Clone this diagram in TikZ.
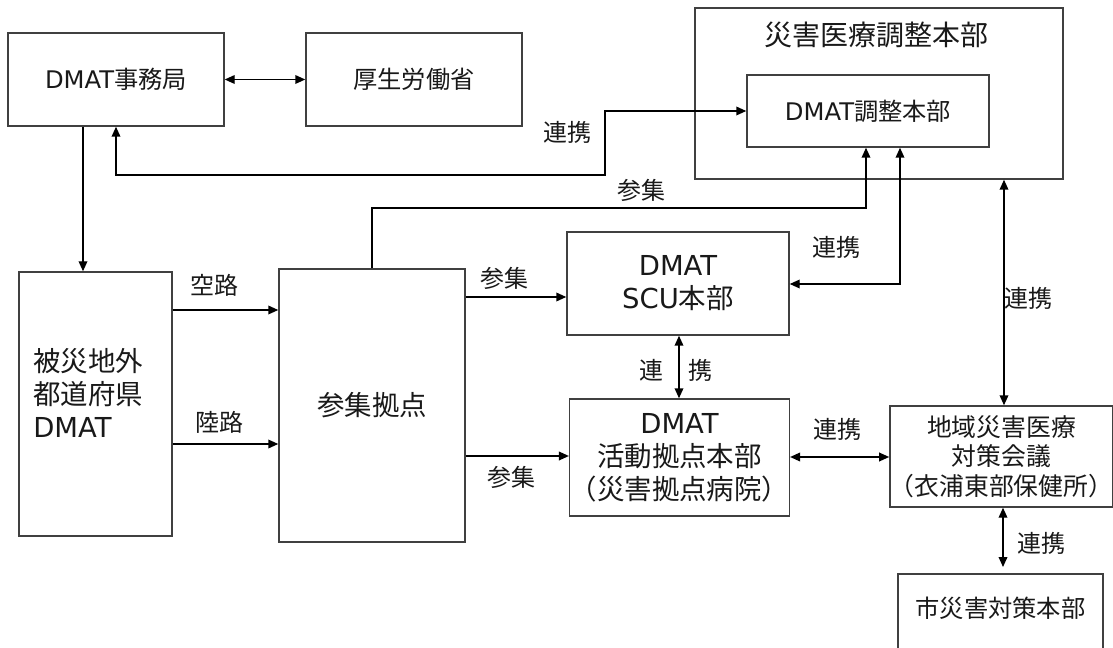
\documentclass[tikz,border=0pt]{standalone}
\usepackage{fontspec}
\setmainfont{Noto Sans CJK JP}
\newfontfamily\lat{DejaVu Sans}
\usetikzlibrary{arrows.meta}
\begin{document}
\begin{tikzpicture}[x=0.75pt,y=-0.75pt,
  box/.style={draw=black!75, line width=1.1pt, inner sep=0pt, align=center, text=black!90},
  fnorm/.style={font=\fontsize{18.2}{22}\selectfont},
  fmid/.style={font=\fontsize{18.6}{22.5}\selectfont},
  fbig/.style={font=\fontsize{20.6}{24.75}\selectfont},
  ftitle/.style={font=\fontsize{21}{25}\selectfont},
  conn/.style={line width=1.1pt, -{Triangle[length=7.5pt,width=6.5pt]}},
  both/.style={line width=1.1pt, {Triangle[length=7.5pt,width=6.5pt]}-{Triangle[length=7.5pt,width=6.5pt]}},
  lbl/.style={font=\fontsize{18}{22}\selectfont, inner sep=0pt, text=black!90}]
\useasboundingbox (0,0) rectangle (1113,648);
\fill[white] (0,0) rectangle (1113,648);

% boxes
\node[box, fnorm, minimum width=162pt, minimum height=69.75pt] (jimu) at (116,79.5) {{\lat DMAT}事務局};
\node[box, fnorm, minimum width=162pt, minimum height=69.75pt] (kosei) at (414,79.5) {厚生労働省};
\node[box, minimum width=276pt, minimum height=128.25pt] (outer) at (879,93.5) {};
\node[ftitle, inner sep=0pt, text=black!90] (title) at (876,35) {災害医療調整本部};
\node[box, fnorm, minimum width=181.5pt, minimum height=54pt] (chosei) at (868,111) {{\lat DMAT}調整本部};
\node[box, minimum width=114.75pt, minimum height=198pt] (hisai) at (95.5,404) {};
\node[fbig, align=left, anchor=west, inner sep=0pt, text=black!90] (hisaiT) at (33,393) {被災地外\\都道府県\\{\lat DMAT}};
\node[box, fbig, minimum width=139.5pt, minimum height=204.75pt] (sanshu) at (372,405.5) {参集拠点};
\node[box, fbig, minimum width=166.5pt, minimum height=77.25pt] (scu) at (678,283.5) {{\lat DMAT}\\{\lat SCU}本部};
\node[box, fbig, minimum width=159.75pt, minimum height=87.75pt] (katsudo) at (679.5,457.5) {{\lat DMAT}\\活動拠点本部\\（災害拠点病院）};
\node[box, fmid, font=\fontsize{18.6}{22.2}\selectfont, minimum width=165.75pt, minimum height=75.75pt] (chiiki) at (1001.5,456.5) {地域災害医療\\対策会議\\（衣浦東部保健所）};
\node[box, minimum width=153.75pt, minimum height=94.5pt] (shi) at (1000.5,637) {};
\node[fnorm, inner sep=0pt, text=black!90] (shiT) at (1000.5,608) {市災害対策本部};

% connectors
\draw[both] (jimu.east) -- (kosei.west);
\draw[conn] (83,0 |- jimu.south) -- (83,0 |- hisai.north);
\draw[both] (jimu.south) |- (605,175) |- (chosei.west);
\node[lbl] (l1) at (567,132) {連携};
\draw[conn] (sanshu.north) |- (866,208) -- (866,0 |- chosei.south);
\node[lbl] (l2) at (641,190) {参集};
\draw[both] (900,0 |- chosei.south) |- (scu.east |- 0,284);
\node[lbl] (l3) at (836,247) {連携};
\draw[both] (1004,0 |- outer.south) -- (1004,0 |- chiiki.north);
\node[lbl] (l4) at (1028,298) {連携};
\draw[conn] (hisai.east |- 0,310) -- (sanshu.west |- 0,310);
\node[lbl] (l5) at (214,285) {空路};
\draw[conn] (hisai.east |- 0,444) -- (sanshu.west |- 0,444);
\node[lbl] (l6) at (219,422) {陸路};
\draw[conn] (sanshu.east |- 0,297) -- (scu.west |- 0,297);
\node[lbl] (l7) at (504,278) {参集};
\draw[conn] (sanshu.east |- 0,456) -- (katsudo.west |- 0,456);
\node[lbl] (l8) at (511,477) {参集};
\draw[both] (679,0 |- scu.south) -- (679,0 |- katsudo.north);
\node[lbl] (l9) at (651,370) {連};
\node[lbl] (l10) at (700,370) {携};
\draw[both] (katsudo.east |- 0,457) -- (chiiki.west |- 0,457);
\node[lbl] (l11) at (837,429) {連携};
\coordinate (shiTip) at (1003,567);
\draw[both] (1003,0 |- chiiki.south) -- (shiTip);
\node[lbl] (l12) at (1041,543) {連携};
\end{tikzpicture}
\end{document}
